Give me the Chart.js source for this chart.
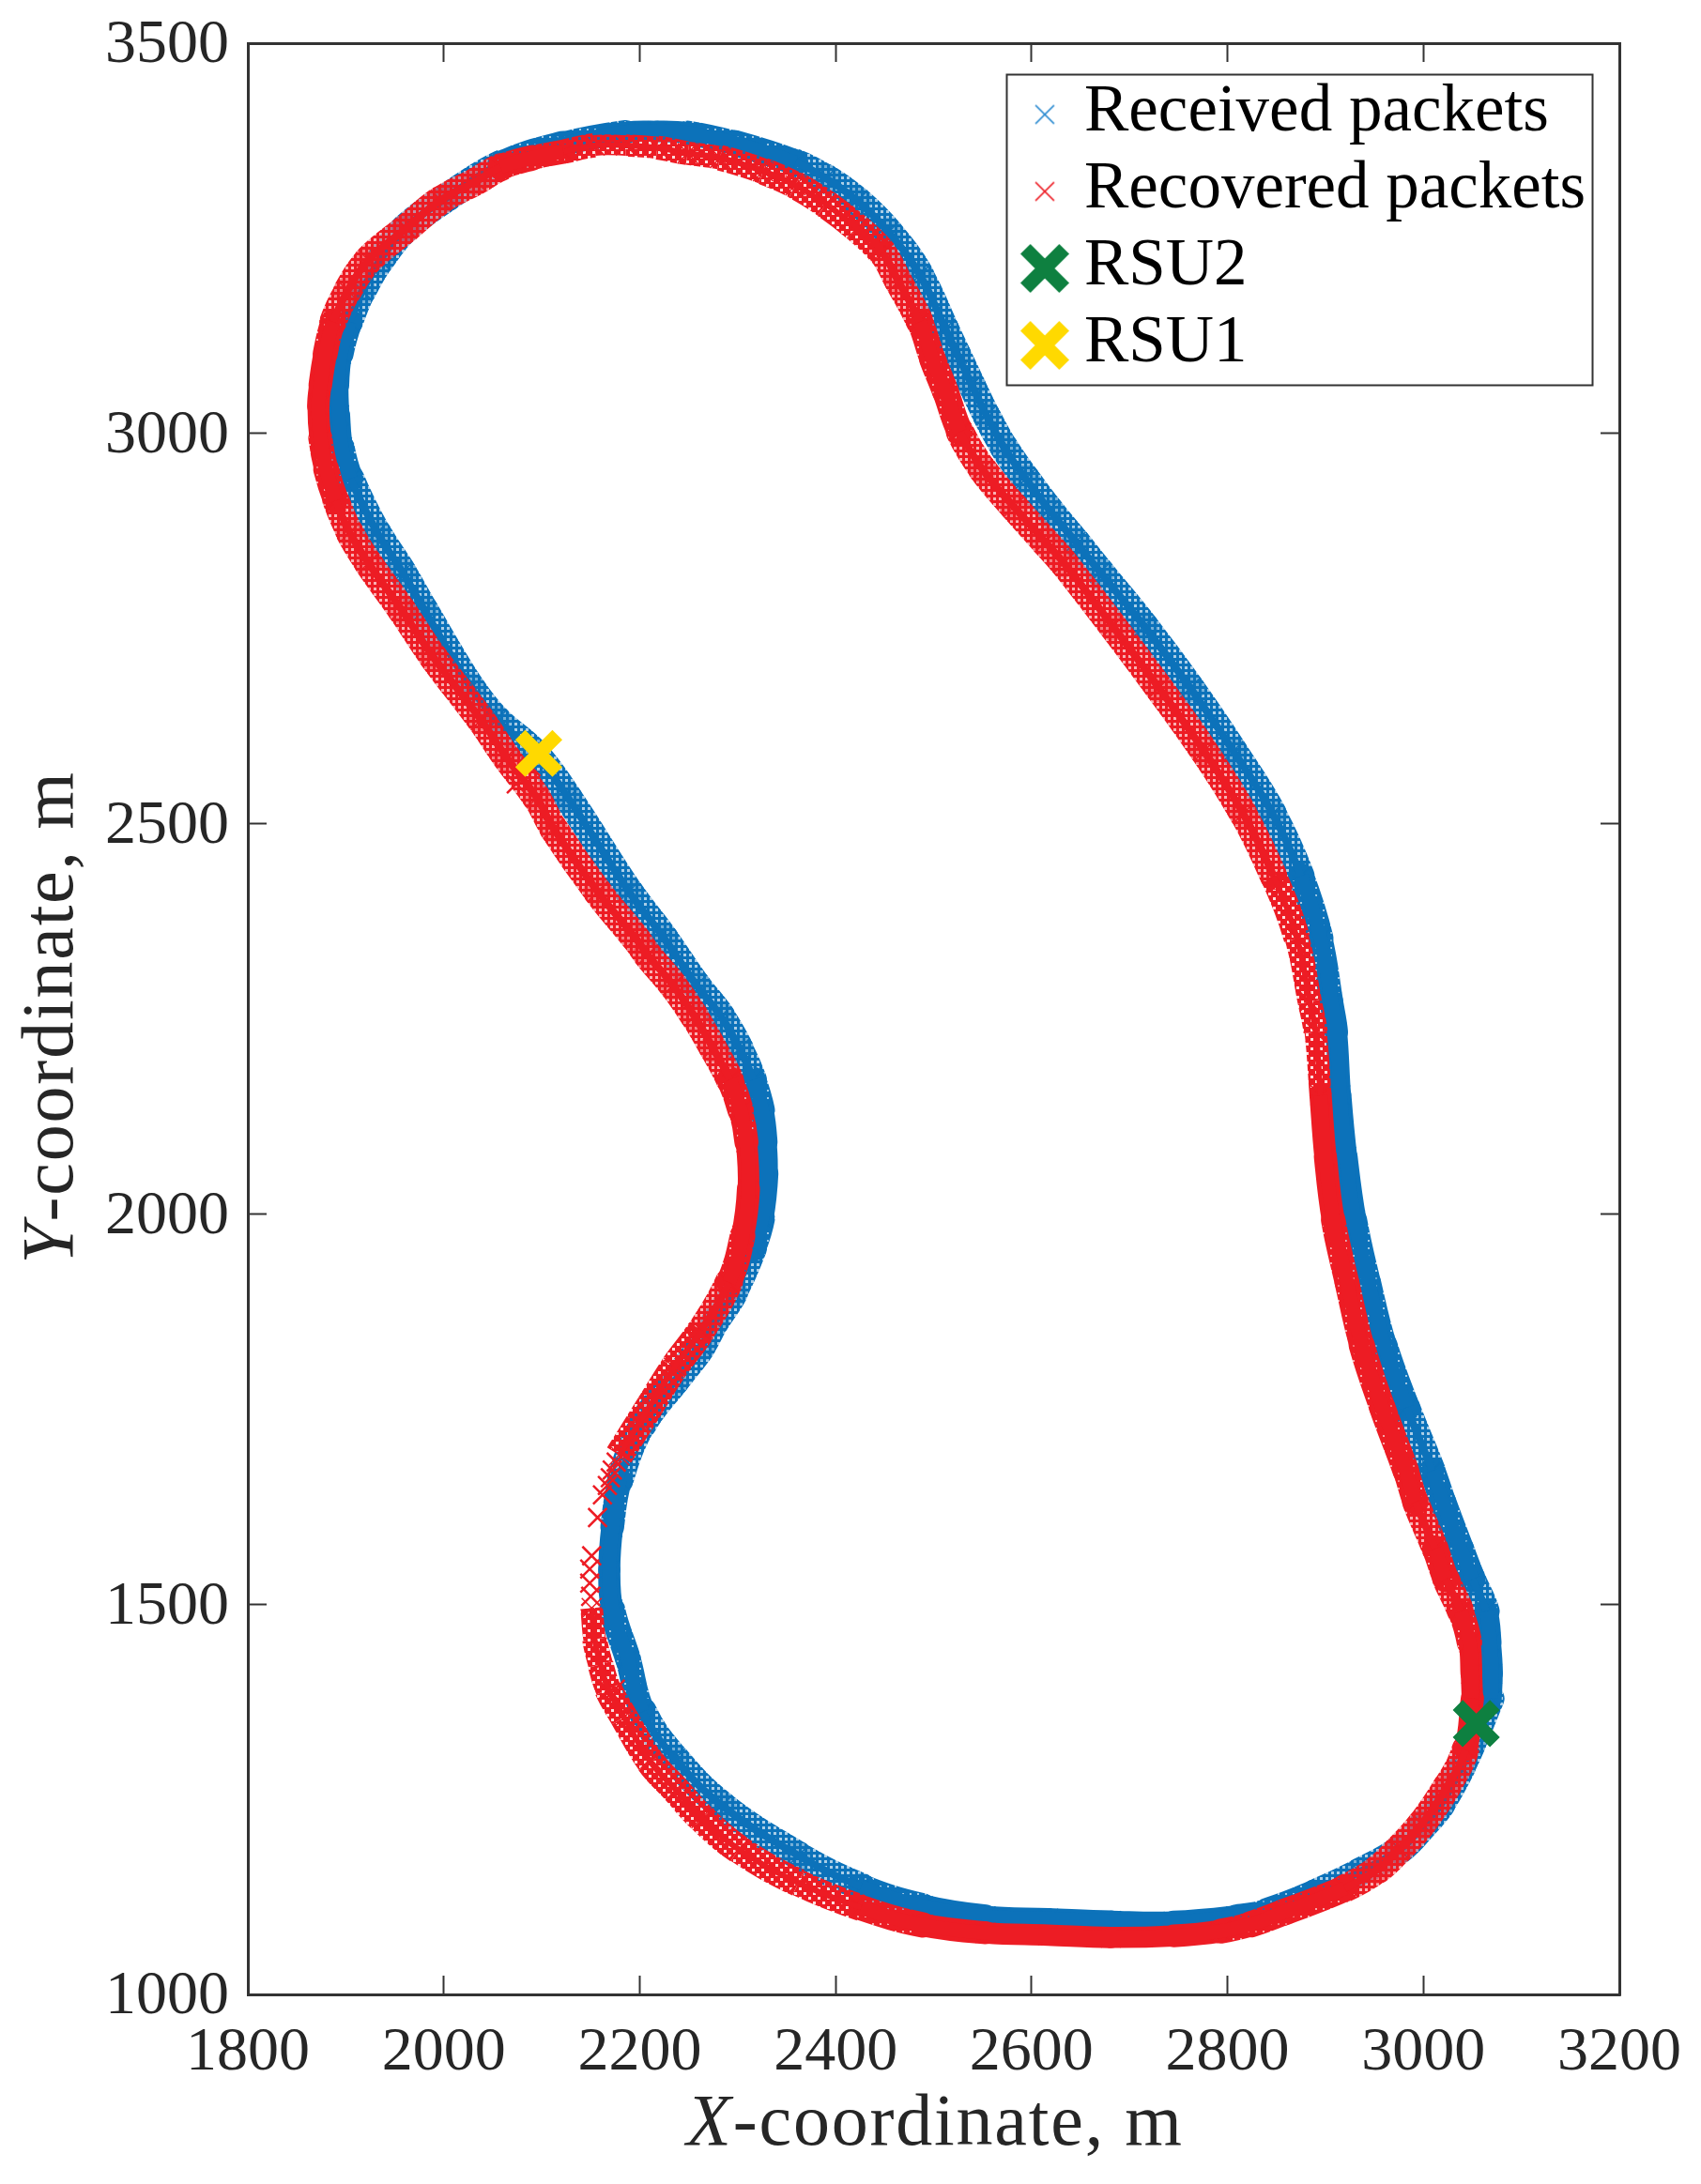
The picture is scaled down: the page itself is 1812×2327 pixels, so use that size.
<!DOCTYPE html>
<html>
<head>
<meta charset="utf-8">
<title>Packets along the track</title>
<script src="https://cdn.jsdelivr.net/npm/chart.js@4"></script>
<style>
  html, body { margin: 0; padding: 0; background: #fff; }
  canvas { display: block; }
</style>
</head>
<body>
<canvas id="trackChart" width="1812" height="2327"></canvas>
<script>
// values, one point per read position along the track
var receivedX = [3069,3070,3068,3064,3050,3038,3020,3009,2983,2960,2944,2930,2921,2915,2911,2906,2895,2875,2846,2806,2762,2715,2670,2645,2618,2594,2572,2554,2539,2524,2512,2486,2454,2422,2390,2359,2297,2249,2218,2186,2122,2058,2004,1961,1935,1917,1904,1895,1892,1893,1896,1905,1932,1958,1980,2028,2054,2093,2127,2189,2225,2258,2283,2302,2316,2325,2329,2330,2325,2316,2296,2277,2263,2236,2203,2180,2172,2169,2172,2188,2203,2236,2284,2362,2426,2489,2553,2617,2681,2745,2809,2841,2889,2935,2976,3000,3018,3039,3050,3069];
var receivedY = [1379,1411,1451,1491,1532,1571,1631,1671,1752,1832,1912,1992,2073,2152,2233,2272,2353,2433,2513,2593,2674,2753,2822,2861,2902,2942,2982,3023,3062,3102,3134,3203,3258,3298,3327,3347,3372,3385,3387,3386,3371,3345,3303,3263,3222,3183,3143,3102,3062,3023,2982,2942,2873,2822,2774,2674,2633,2590,2533,2413,2353,2293,2253,2212,2172,2133,2092,2052,1994,1956,1899,1862,1830,1786,1731,1659,1599,1544,1493,1430,1362,1302,1242,1178,1138,1113,1100,1097,1094,1093,1100,1107,1130,1157,1186,1217,1244,1291,1321,1379];

var recoveredX = [3050,3049,3047,3038,3023,3012,2992,2982,2958,2937,2922,2908,2900,2895,2890,2884,2871,2847,2816,2776,2730,2683,2633,2614,2582,2550,2527,2512,2499,2486,2464,2448,2422,2390,2359,2326,2282,2249,2218,2186,2154,2122,2090,2058,2033,1997,1962,1923,1902,1887,1879,1874,1872,1874,1880,1890,1904,1923,1957,1989,2038,2064,2095,2112,2157,2196,2208,2234,2256,2275,2292,2303,2309,2311,2305,2291,2263,2235,2211,2199,2179,null,2151,2154,2160,2168,2184,2211,2237,2263,2301,2362,2426,2489,2553,2617,2681,2745,2793,2824,2857,2920,2953,2975,2998,3024,3043,3050];
var recoveredY = [1379,1411,1451,1491,1532,1571,1631,1671,1752,1832,1912,1992,2073,2152,2233,2272,2353,2433,2513,2593,2674,2753,2834,2861,2906,2954,3002,3054,3095,3143,3195,3231,3263,3294,3318,3336,3353,3359,3366,3369,3369,3361,3353,3341,3323,3299,3263,3222,3183,3143,3102,3062,3035,2994,2954,2914,2873,2834,2774,2714,2633,2585,2533,2494,2413,2353,2332,2293,2253,2212,2172,2133,2092,2032,1972,1912,1851,1803,1755,1731,1691,null,1495,1455,1423,1391,1355,1298,1262,1226,1186,1143,1111,1089,1079,1076,1073,1075,1081,1090,1105,1136,1160,1186,1218,1266,1314,1379];

// lone recovered crosses sitting off the band
var strayX = [2176,2172,2170,2167,2162,2157,2151,2149,2149,2150,2074,2089,2175,2211,2266];
var strayY = [1682,1672,1662,1652,1640,1611,1562,1545,1527,1510,2551,2573,1391,1301,1226];

var rsu2X = [3054];
var rsu2Y = [1347];
var rsu1X = [2097];
var rsu1Y = [2590];

var xTicks = [1800,2000,2200,2400,2600,2800,3000,3200];
var yTicks = [1000,1500,2000,2500,3000,3500];
var legendNames = ['Received packets','Recovered packets','RSU2','RSU1'];

var BLUE = '#0C72BA', RED = '#ED1C24', GREEN = '#0E8040', YELLOW = '#FFD900';
var SERIF = '"Liberation Serif", serif';

// stretches of the recovered series where the crosses are sparse (index ranges)
var raggedRanges = [[13,17],[31,41],[76,80],[82,92]];

var canvas = document.getElementById('trackChart');
var ctx = canvas.getContext('2d');

function toPoints(xs, ys) {
  return xs.map(function(x, i) { return {x: x, y: ys[i]}; });
}

// dotted tiles, the packet crosses overlap into this look on the slanted stretches
function tile(color, size, holes, alpha) {
  var cv = document.createElement('canvas');
  cv.width = size;
  cv.height = size;
  var t = cv.getContext('2d');
  t.fillStyle = color;
  t.fillRect(0, 0, size, size);
  holes.forEach(function(h) {
    t.clearRect(h[0], h[1], h[2], h[2]);
    t.globalAlpha = alpha;
    t.fillRect(h[0], h[1], h[2], h[2]);
    t.globalAlpha = 1;
  });
  return ctx.createPattern(cv, 'repeat');
}

// legend icon, dx and dy move the cross off the centre of the tile
function crossIcon(size, width, color, dx, dy) {
  var c = document.createElement('canvas');
  c.width = size + 4 + dx * 2;
  c.height = size + 4 + dy * 2;
  var g = c.getContext('2d');
  var cx = c.width / 2 + dx, cy = c.height / 2 + dy, r = size / 2 - width * 0.354;
  g.strokeStyle = color;
  g.lineWidth = width;
  g.beginPath();
  g.moveTo(cx - r, cy - r);
  g.lineTo(cx + r, cy + r);
  g.moveTo(cx - r, cy + r);
  g.lineTo(cx + r, cy - r);
  g.stroke();
  return c;
}

function direction(c) {
  var dx = c.p1.x - c.p0.x, dy = c.p1.y - c.p0.y;
  var len = Math.sqrt(dx * dx + dy * dy) || 1;
  return (Math.abs(dx) + Math.abs(dy)) / len;
}

function inRanges(i, ranges) {
  return ranges.some(function(r) { return i >= r[0] && i < r[1]; });
}

function band(label, xs, ys, color, order, ragged) {
  var dense = tile(color, 6, [[2,2,3]], 0.35);
  var sparse = tile(color, 8, [[1,1,2]], 0.4);
  var rough = tile(color, 10, [[1,1,3],[6,6,3]], 0.15);
  return {
    label: label,
    data: toPoints(xs, ys),
    order: order,
    showLine: true,
    spanGaps: false,
    tension: 0.4,
    borderColor: color,
    borderCapStyle: 'round',
    borderJoinStyle: 'round',
    borderWidth: 24,
    pointStyle: 'crossRot',
    pointRadius: 15,
    pointBorderWidth: 1.5,
    pointBorderColor: color,
    pointBackgroundColor: color,
    segment: {
      borderWidth: function(c) { return 22 * direction(c); },
      borderCapStyle: function(c) { return inRanges(c.p0DataIndex, ragged) ? 'butt' : 'round'; },
      borderColor: function(c) {
        if (inRanges(c.p0DataIndex, ragged)) return rough;
        var d = direction(c);
        return d > 1.3 ? dense : d > 1.15 ? sparse : color;
      }
    }
  };
}

function core(xs, ys, color, order, ragged) {
  return {
    label: 'core',
    data: toPoints(xs, ys),
    order: order,
    showLine: true,
    spanGaps: false,
    tension: 0.4,
    borderColor: color,
    borderWidth: 8,
    pointRadius: 0,
    segment: {
      borderWidth: function(c) {
        if (inRanges(c.p0DataIndex, ragged)) return 6;
        return direction(c) > 1.3 ? 8 : 15;
      }
    }
  };
}

function rsu(label, xs, ys, color) {
  return {
    label: label,
    data: toPoints(xs, ys),
    order: 0,
    pointStyle: 'crossRot',
    pointRadius: 28,
    pointBorderWidth: 15,
    pointBorderColor: color,
    pointBackgroundColor: color
  };
}

var legendIcons = [
  crossIcon(21, 1.6, '#2A8AD0', 11.75, 2),
  crossIcon(21, 1.6, RED, 11.75, 2),
  crossIcon(52, 15, GREEN, 11.75, 2),
  crossIcon(52, 15, YELLOW, 11.75, 2)
];

// legend sits inside the axes, with a thin frame around it
var legendFrame = {
  id: 'legendFrame',
  beforeDraw: function(chart) {
    chart.legend.left = 1072;
    chart.legend.top = 73.5;
    var c = chart.ctx;
    c.save();
    c.strokeStyle = '#333';
    c.lineWidth = 2;
    c.strokeRect(1072.5, 79.5, 624, 331);
    c.restore();
  }
};

// axis titles have an italic first letter, the built in title can not mix styles
var axisTitles = {
  id: 'axisTitles',
  afterDraw: function(chart) {
    var c = chart.ctx;
    function title(letter, rest, x, y, angle) {
      c.save();
      c.translate(x, y);
      c.rotate(angle);
      c.fillStyle = '#262626';
      c.textBaseline = 'alphabetic';
      c.textAlign = 'left';
      c.letterSpacing = '1.8px';
      c.font = 'italic 78px ' + SERIF;
      var w1 = c.measureText(letter).width;
      c.font = '78px ' + SERIF;
      var w2 = c.measureText(rest).width;
      c.font = 'italic 78px ' + SERIF;
      c.fillText(letter, -(w1 + w2) / 2, 0);
      c.font = '78px ' + SERIF;
      c.fillText(rest, -(w1 + w2) / 2 + w1, 0);
      c.restore();
    }
    title('X', '-coordinate, m', 996, 2285, 0);
    title('Y', '-coordinate, m', 77, 1084, -Math.PI / 2);
  }
};

function axis(position, min, max, values, labelled, size) {
  return {
    type: 'linear',
    position: position,
    min: min,
    max: max,
    afterBuildTicks: function(scale) {
      scale.ticks = values.map(function(v) { return {value: v}; });
    },
    afterFit: function(scale) {
      if (position === 'left' || position === 'right') scale.width = size;
      else scale.height = size;
      // tick labels may hang past the plot, no extra margin for them
      scale.paddingLeft = scale.paddingRight = scale.paddingTop = scale.paddingBottom = 0;
    },
    border: {color: '#333', width: 3},
    grid: {drawOnChartArea: false, tickLength: -20, tickWidth: 2, tickColor: '#333'},
    ticks: {
      display: labelled,
      autoSkip: false,
      maxRotation: 0,
      padding: position === 'left' ? 40 : 43,
      labelOffset: position === 'left' ? 3 : 0,
      color: '#262626',
      font: {family: SERIF, size: 66},
      callback: function(v) { return String(v); }
    }
  };
}

var chart = new Chart(ctx, {
  type: 'scatter',
  data: {
    datasets: [
      band(legendNames[0], receivedX, receivedY, BLUE, 4, []),
      band(legendNames[1], recoveredX, recoveredY, RED, 2, raggedRanges),
      rsu(legendNames[2], rsu2X, rsu2Y, GREEN),
      rsu(legendNames[3], rsu1X, rsu1Y, YELLOW),
      core(receivedX, receivedY, BLUE, 3, []),
      core(recoveredX, recoveredY, RED, 1, raggedRanges),
      {
        label: 'stray',
        data: toPoints(strayX, strayY),
        order: 1,
        pointStyle: 'crossRot',
        pointRadius: 14,
        pointBorderWidth: 2.5,
        pointBorderColor: RED
      }
    ]
  },
  options: {
    responsive: false,
    animation: false,
    devicePixelRatio: 1,
    layout: {padding: {left: 0, top: 46, right: 87, bottom: 0}},
    plugins: {
      tooltip: {enabled: false},
      legend: {
        position: 'chartArea',
        align: 'start',
        labels: {
          usePointStyle: true,
          boxWidth: 36.5,
          padding: 11,
          color: '#111',
          font: {family: SERIF, size: 71},
          generateLabels: function() {
            return legendNames.map(function(name, i) {
              return {text: name, pointStyle: legendIcons[i], datasetIndex: i, lineWidth: 0};
            });
          }
        }
      }
    },
    scales: {
      x: axis('bottom', 1800, 3200, xTicks, true, 202),
      y: axis('left', 1000, 3500, yTicks, true, 264),
      xTop: axis('top', 1800, 3200, xTicks, false, 0),
      yRight: axis('right', 1000, 3500, yTicks, false, 0)
    }
  },
  plugins: [legendFrame, axisTitles]
});
</script>
</body>
</html>
